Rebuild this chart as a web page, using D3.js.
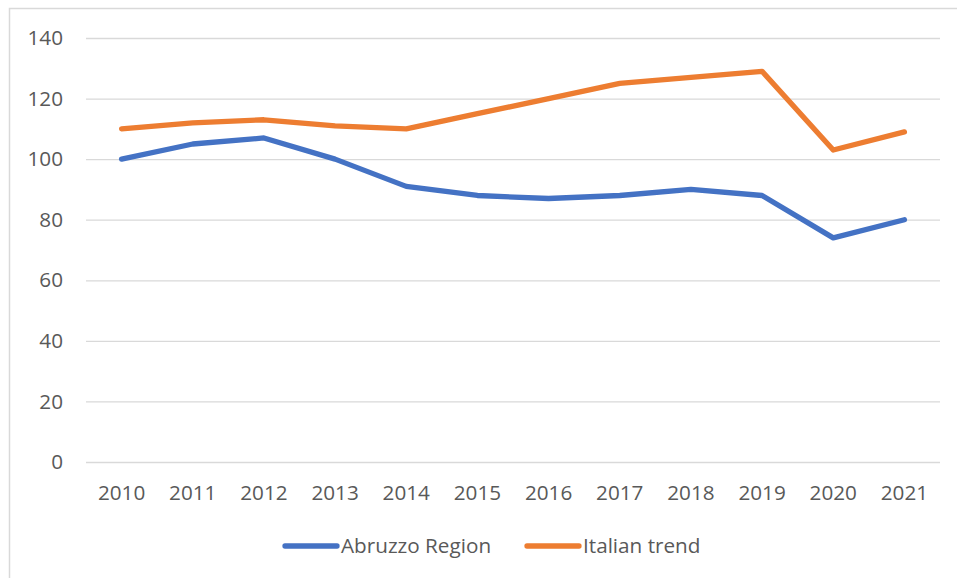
<!DOCTYPE html>
<html>
<head>
<meta charset="utf-8">
<script src="https://cdn.jsdelivr.net/npm/d3@7"></script>
<style>
  body { margin: 0; background: #fff; }
  svg text { font-family: "Open Sans", sans-serif; fill: #595959; }
</style>
</head>
<body>
<script>
// Data
const years = ["2010", "2011", "2012", "2013", "2014", "2015", "2016", "2017", "2018", "2019", "2020", "2021"];
const abruzzo = [100, 105, 107, 100, 91, 88, 87, 88, 90, 88, 74, 80];
const italy = [110, 112, 113, 111, 110, 115, 120, 125, 127, 129, 103, 109];
const yTicks = [0, 20, 40, 60, 80, 100, 120, 140];
const seriesNames = ["Abruzzo Region", "Italian trend"];
const seriesColors = ["#4472C4", "#ED7D31"];

const w = 957, h = 578;
let plot = {left: 86, right: 940, top: 38, bottom: 462};
const fontSize = "20.7px";

let svg = d3.select("body").append("svg")
    .attr("width", w)
    .attr("height", h);

// chart border (right and bottom edges fall outside the picture)
svg.append("rect")
    .attr("x", 9.5).attr("y", 8.5)
    .attr("width", w + 20).attr("height", h + 20)
    .attr("fill", "none")
    .attr("stroke", "#d9d9d9")
    .attr("stroke-width", 1.5);

let x = d3.scaleBand()
    .domain(years)
    .range([plot.left, plot.right]);

let y = d3.scaleLinear()
    .domain([0, 140])
    .range([plot.bottom, plot.top]);

// gridlines + y labels
let yAxis = svg.append("g")
    .attr("transform", "translate(" + plot.left + ",0)")
    .call(d3.axisLeft(y).tickValues(yTicks).tickSize(-(plot.right - plot.left)).tickPadding(23));
yAxis.select(".domain").remove();
yAxis.selectAll(".tick line").attr("stroke", "#d9d9d9").attr("stroke-width", 1.3);
yAxis.selectAll(".tick text").style("font-size", fontSize).attr("fill", "#595959");

// x labels
let xAxis = svg.append("g")
    .attr("transform", "translate(0," + plot.bottom + ")")
    .call(d3.axisBottom(x).tickSize(0).tickPadding(23));
xAxis.select(".domain").remove();
xAxis.selectAll(".tick text").style("font-size", fontSize).attr("fill", "#595959");

// lines
let line = d3.line()
    .x((d, i) => x(years[i]) + x.bandwidth() / 2)
    .y(d => y(d));

[abruzzo, italy].forEach((s, k) => {
    svg.append("path")
        .datum(s)
        .attr("d", line)
        .attr("fill", "none")
        .attr("stroke", seriesColors[k])
        .attr("stroke-width", 5.3)
        .attr("stroke-linejoin", "round")
        .attr("stroke-linecap", "round");
});

// legend
let legendX = [285, 527];
let legend = svg.append("g");
seriesNames.forEach((name, k) => {
    legend.append("line")
        .attr("x1", legendX[k]).attr("x2", legendX[k] + 52)
        .attr("y1", 546).attr("y2", 546)
        .attr("stroke", seriesColors[k])
        .attr("stroke-width", 5.3)
        .attr("stroke-linecap", "round");
    legend.append("text")
        .attr("x", legendX[k] + 56)
        .attr("y", 546)
        .attr("dy", "0.35em")
        .style("font-size", fontSize)
        .text(name);
});
</script>
</body>
</html>
